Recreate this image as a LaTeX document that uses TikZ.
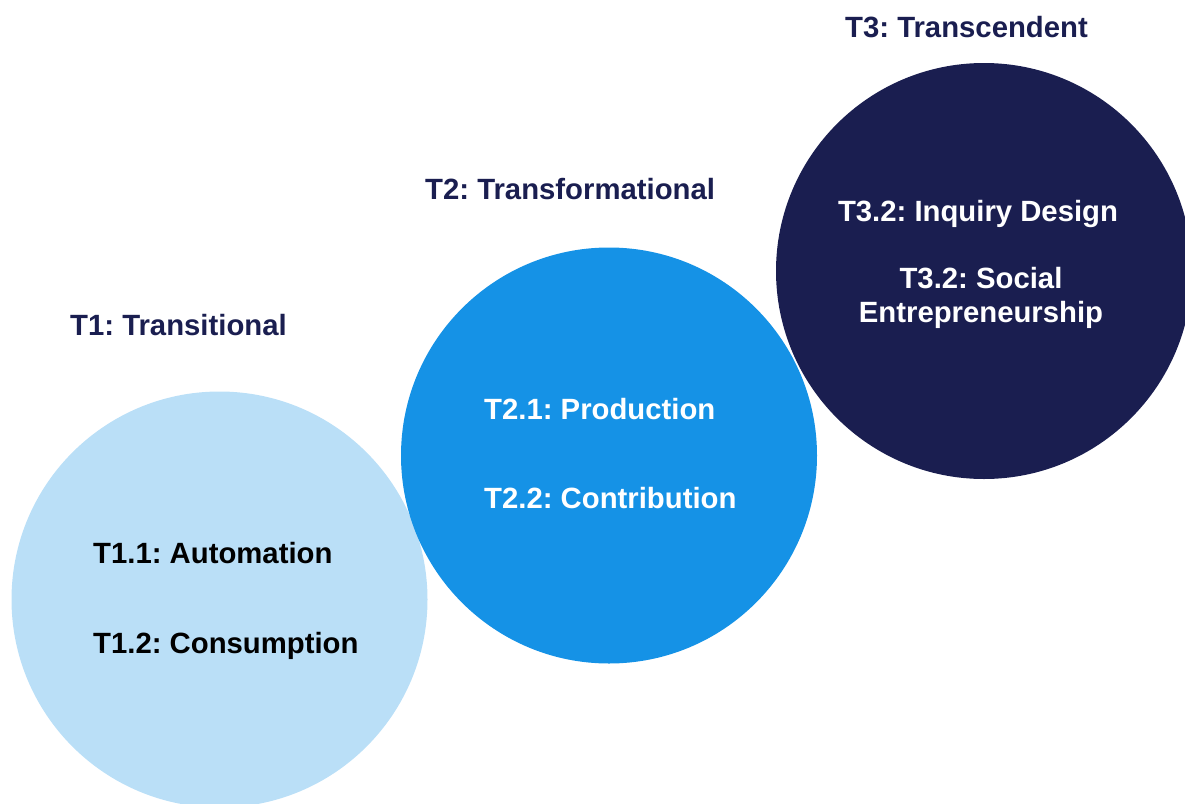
\documentclass[tikz,border=0pt]{standalone}
\usepackage{fontspec}
\setmainfont{Liberation Sans}
\usepackage{xcolor}
\usetikzlibrary{positioning}
\frenchspacing

\definecolor{tierlight}{HTML}{BADFF7}
\definecolor{tiermid}{HTML}{1592E6}
\definecolor{tierdark}{HTML}{1A1E50}

\begin{document}
\begin{tikzpicture}[
    x=1pt, y=-1pt,
    tier/.style={circle, inner sep=0pt, minimum size=416pt, draw=none},
    title/.style={anchor=base west, inner sep=0pt, text=tierdark, font=\fontsize{29.3}{34}\selectfont\bfseries},
    item/.style={anchor=base west, inner sep=0pt, font=\fontsize{29.3}{34}\selectfont\bfseries}
]
    \useasboundingbox (0,0) rectangle (1185,803);
    \clip (0,0) rectangle (1185,803);

    % Kola poziomow
    \node[tier, fill=tierlight] (t1) at (219.5,599.5) {};
    \node[tier, fill=tiermid] (t2) at (609,455.5) {};
    \node[tier, fill=tierdark] (t3) at (984,271) {};

    % Naglowki
    \node[title] (t1title) at (70,335) {T1: Transitional};
    \node[title] (t2title) at (425,199) {T2: Transformational};
    \node[title] (t3title) at (845,37) {T3: Transcendent};

    % T1
    \node[item, text=black] (t1a) at (93,563) {T1.1: Automation};
    \node[item, text=black] (t1b) at (93,653) {T1.2: Consumption};

    % T2
    \node[item, text=white] (t2a) at (484,419) {T2.1: Production};
    \node[item, text=white] (t2b) at (484,508) {T2.2: Contribution};

    % T3
    \node[item, text=white, anchor=base] (t3a) at (978,221) {T3.2: Inquiry Design};
    \node[item, text=white, anchor=base, align=center] (t3b) at (981,322) {T3.2: Social\\Entrepreneurship};
\end{tikzpicture}
\end{document}
